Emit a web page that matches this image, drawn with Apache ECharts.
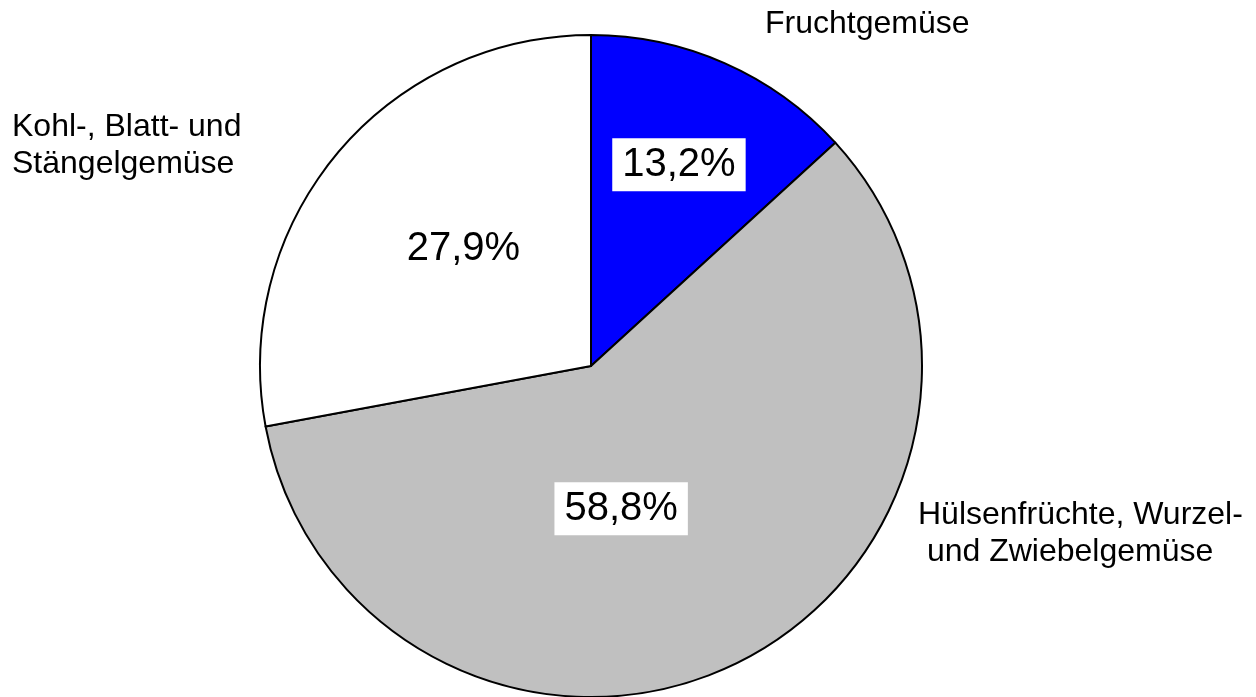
<!DOCTYPE html>
<html>
<head>
<meta charset="utf-8">
<script src="https://cdn.jsdelivr.net/npm/echarts@6/dist/echarts.min.js"></script>
<style>
  html, body { margin: 0; padding: 0; background: #fff; }
  #chart { width: 1256px; height: 697px; }
</style>
</head>
<body>
<div id="chart"></div>
<script>
// Daten
var categories = ['Fruchtgemüse', 'Hülsenfrüchte, Wurzel-\n und Zwiebelgemüse', 'Kohl-, Blatt- und\nStängelgemüse'];
var shares = [13.2, 58.8, 27.9];
var colors = ['#0000ff', '#c0c0c0', '#ffffff'];

// Feinjustierung der Beschriftungen
var innerOffsets = [[20, -47], [-45, -8], [2, -9]];
var outerAnchors = [[765, 24], [918, 534], [12, 146]];

var fontFamily = '"Liberation Sans", Arial, sans-serif';

var chart = echarts.init(document.getElementById('chart'), null, { renderer: 'canvas' });

var pieData = categories.map(function (name, i) {
    return {
        name: name,
        value: shares[i],
        itemStyle: { color: colors[i] },
        label: { offset: innerOffsets[i] }
    };
});

var labelData = categories.map(function (name, i) {
    return { name: name, value: shares[i] };
});

var option = {
    animation: false,
    backgroundColor: '#ffffff',
    series: [
        {
            type: 'pie',
            center: [591, 366],
            radius: 331,
            startAngle: 90,
            clockwise: true,
            avoidLabelOverlap: false,
            silent: true,
            itemStyle: {
                borderColor: '#000000',
                borderWidth: 2
            },
            label: {
                show: true,
                position: 'inside',
                formatter: function (p) {
                    return p.value.toFixed(1).replace('.', ',') + '%';
                },
                fontFamily: fontFamily,
                fontSize: 40,
                lineHeight: 46,
                color: '#000000',
                backgroundColor: '#ffffff',
                padding: [4, 10, 3, 10]
            },
            labelLine: { show: false },
            emphasis: { disabled: true },
            data: pieData
        },
        {
            // unsichtbare Kopie nur für die Kategorienamen außen
            type: 'pie',
            center: [591, 366],
            radius: 331,
            startAngle: 90,
            clockwise: true,
            avoidLabelOverlap: false,
            silent: true,
            z: 3,
            itemStyle: { color: 'rgba(0,0,0,0)', borderWidth: 0 },
            label: {
                show: true,
                position: 'outside',
                formatter: '{b}',
                fontFamily: fontFamily,
                fontSize: 32,
                lineHeight: 37,
                color: '#000000'
            },
            labelLine: { show: false },
            labelLayout: function (params) {
                var a = outerAnchors[params.dataIndex];
                return { x: a[0], y: a[1], align: 'left', verticalAlign: 'middle' };
            },
            emphasis: { disabled: true },
            data: labelData
        }
    ]
};

chart.setOption(option);
</script>
</body>
</html>
